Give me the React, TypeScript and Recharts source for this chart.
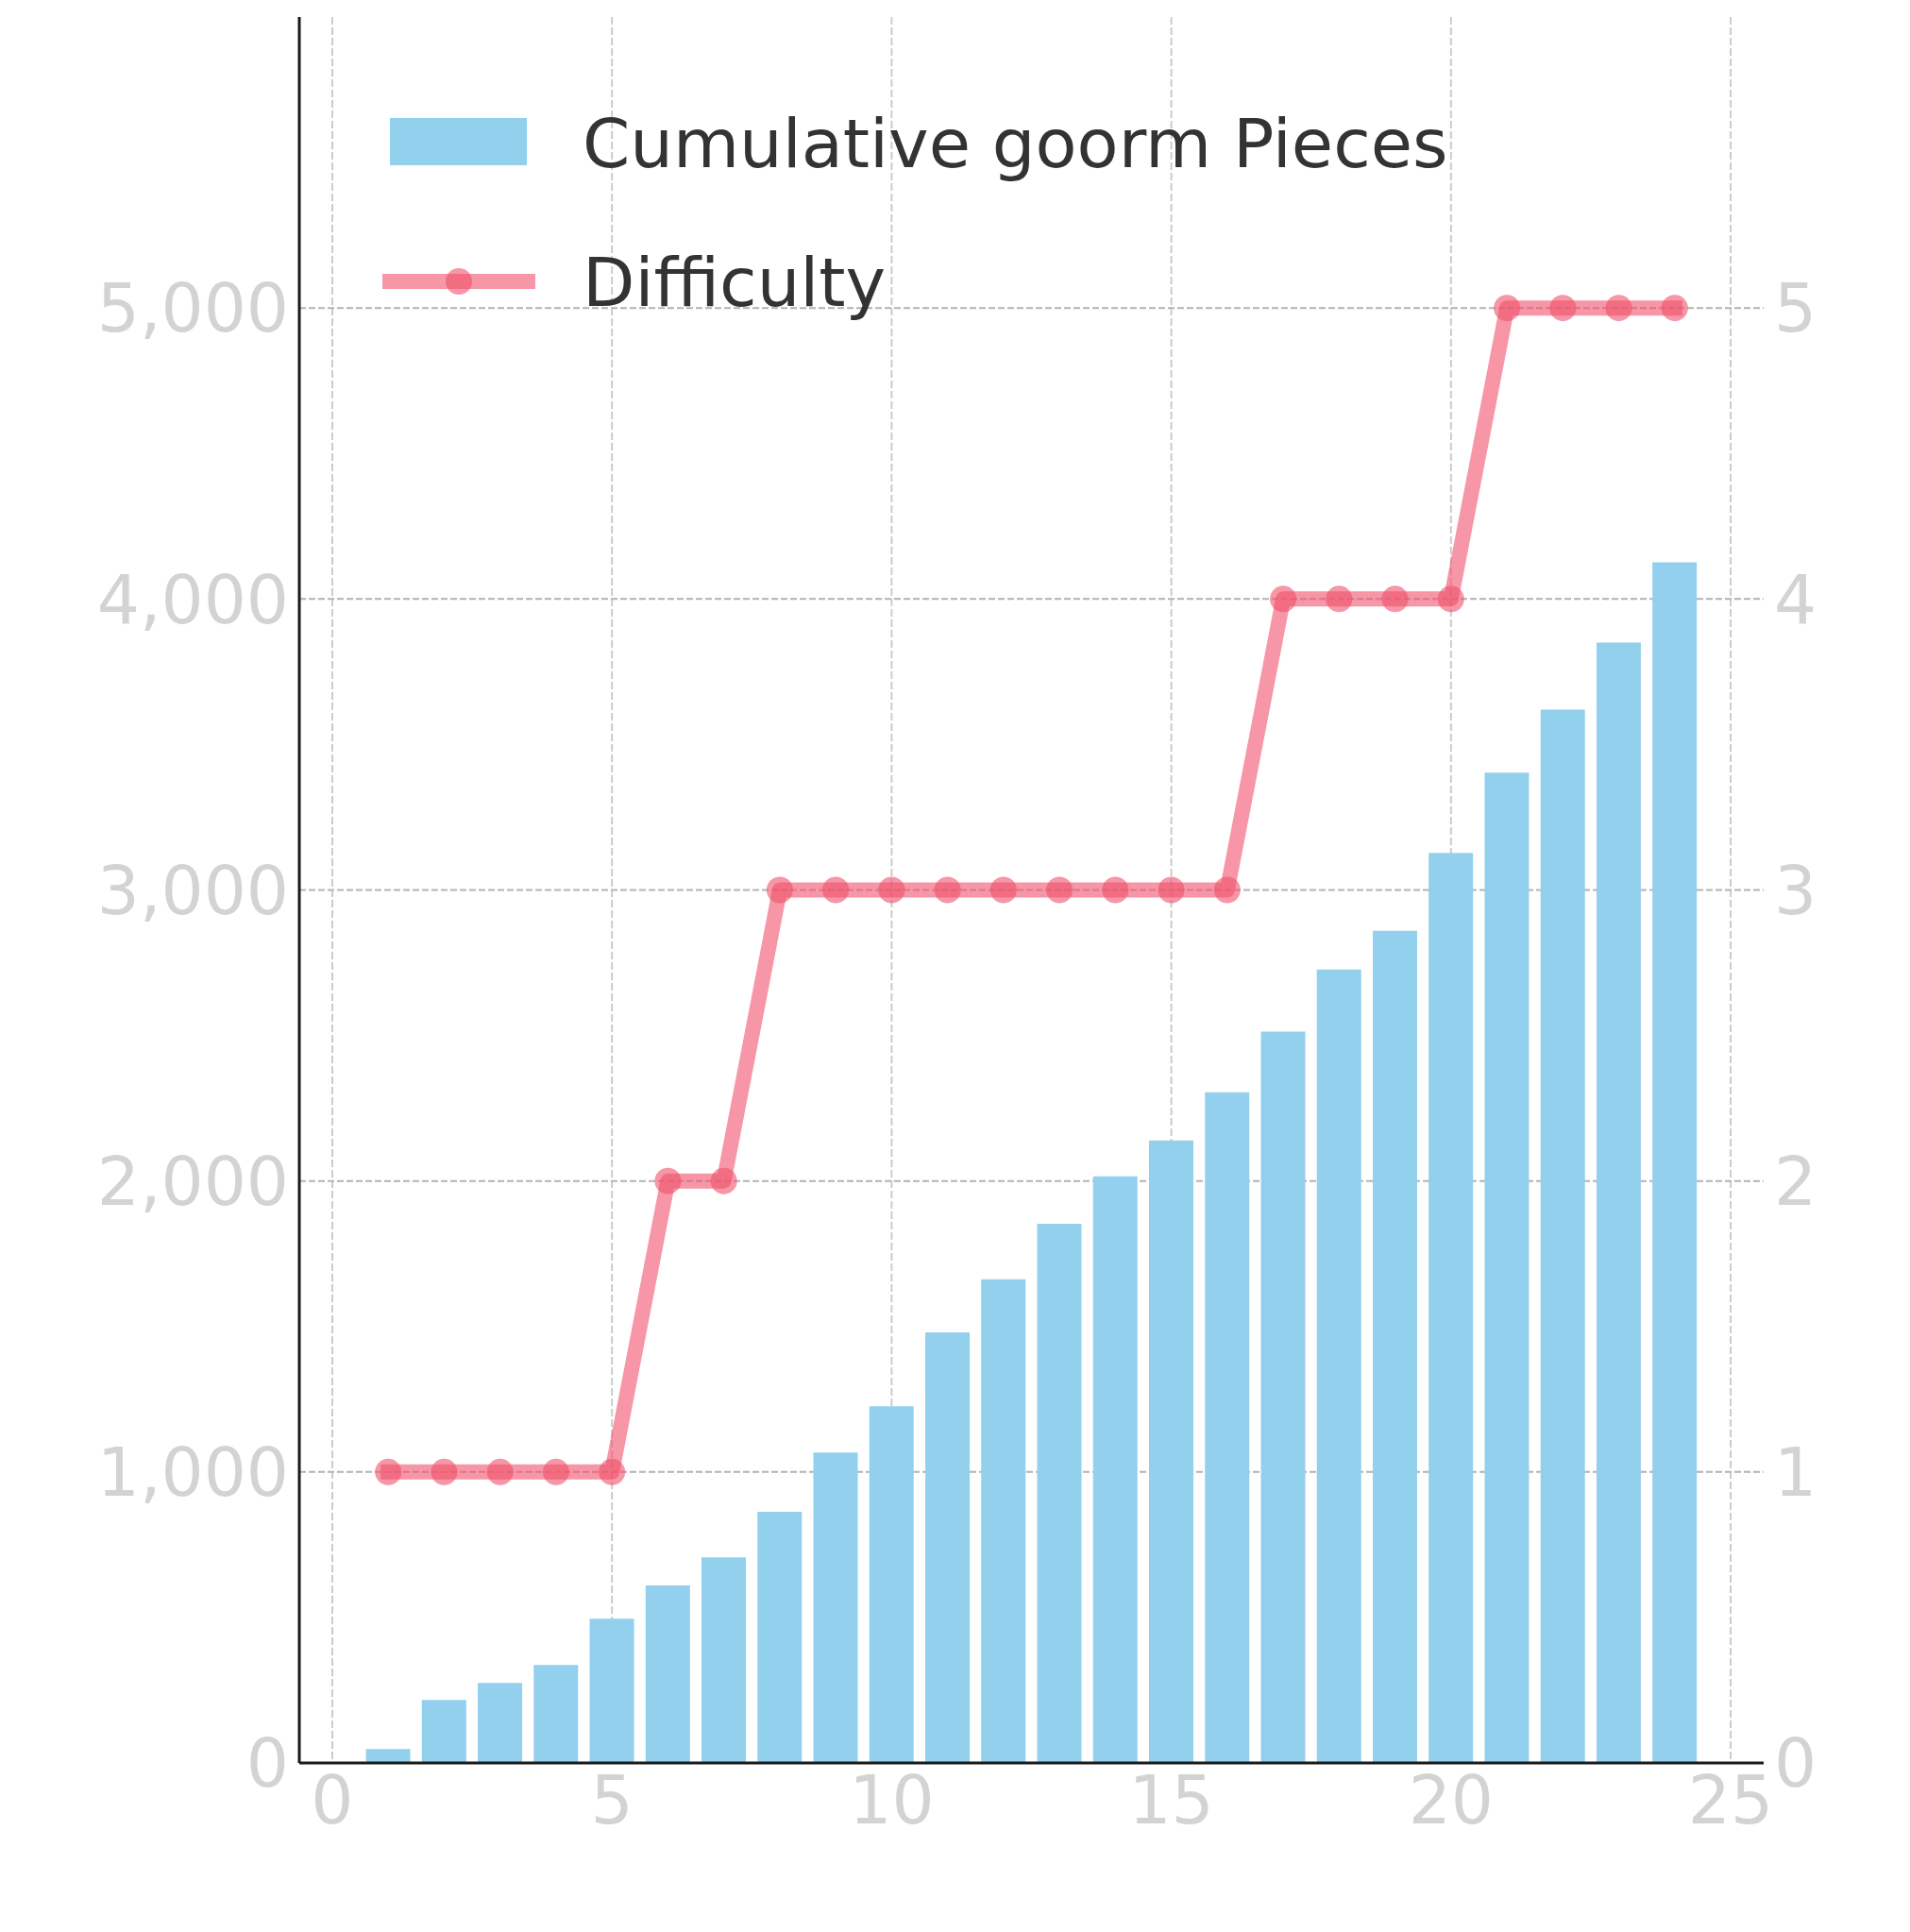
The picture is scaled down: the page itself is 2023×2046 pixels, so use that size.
import React from 'react';
import { ComposedChart, Bar, Line, XAxis, YAxis, CartesianGrid, Legend } from 'recharts';

const periods = [1, 2, 3, 4, 5, 6, 7, 8, 9, 10, 11, 12, 13, 14, 15, 16, 17, 18, 19, 20, 21, 22, 23, 24];
const cumulativePieces = [48, 217, 275, 337, 496, 610, 707, 863, 1067, 1226, 1480, 1662, 1853, 2016, 2139, 2305, 2513, 2727, 2860, 3127, 3403, 3620, 3850, 4126];
const difficulty = [1, 1, 1, 1, 1, 2, 2, 3, 3, 3, 3, 3, 3, 3, 3, 3, 4, 4, 4, 4, 5, 5, 5, 5];
const xTicks = [0, 5, 10, 15, 20, 25];
const leftTicks = [0, 1000, 2000, 3000, 4000, 5000];
const rightTicks = [0, 1, 2, 3, 4, 5];
const seriesNames = ['Cumulative goorm Pieces', 'Difficulty'];

const data = periods.map((p, i) => ({ x: p, pieces: cumulativePieces[i], difficulty: difficulty[i] }));

const BAR = '#92d0ee';
const LINE = '#f0506b';
const FONT = '"DejaVu Sans", sans-serif';
const TICK = { fill: '#d3d3d3', fontSize: 71, fontFamily: FONT };

function LegendContent() {
  return (
    <svg width={1700} height={360} style={{ display: 'block', overflow: 'visible' }}>
      <rect x={413} y={125} width={145} height={50} fill={BAR} />
      <text x={617} y={177} fontSize={72} fontFamily={FONT} fill="#333333">{seriesNames[0]}</text>
      <line x1={413} y1={298} x2={559} y2={298} stroke={LINE} strokeOpacity={0.6} strokeWidth={16} strokeLinecap="square" />
      <circle cx={486} cy={298} r={14} fill={LINE} fillOpacity={0.6} />
      <text x={617} y={324} fontSize={72} fontFamily={FONT} fill="#333333">{seriesNames[1]}</text>
    </svg>
  );
}

export default function App() {
  return (
    <div style={{ position: 'absolute', left: 0, top: 0, background: '#ffffff' }}>
      <ComposedChart width={2023} height={2046} data={data} margin={{ top: 18, right: 0, bottom: 0, left: 0 }}>
        <XAxis
          dataKey="x"
          type="number"
          domain={[-0.59, 25.59]}
          allowDataOverflow
          ticks={xTicks}
          interval={0}
          height={179}
          tickLine={false}
          tickSize={0}
          tickMargin={14}
          axisLine={{ stroke: '#1a1a1a', strokeWidth: 3 }}
          tick={TICK}
        />
        <YAxis
          yAxisId="left"
          domain={[0, 6000]}
          ticks={leftTicks}
          interval={0}
          width={317}
          tickLine={false}
          tickSize={0}
          tickMargin={11}
          axisLine={{ stroke: '#1a1a1a', strokeWidth: 3 }}
          tick={TICK}
          tickFormatter={(v: number) => v.toLocaleString('en-US')}
        />
        <YAxis
          yAxisId="right"
          orientation="right"
          domain={[0, 6]}
          ticks={rightTicks}
          interval={0}
          width={155}
          tickLine={false}
          tickSize={0}
          tickMargin={11}
          axisLine={false}
          tick={TICK}
        />
        <Bar
          yAxisId="left"
          dataKey="pieces"
          name={seriesNames[0]}
          fill={BAR}
          barSize={47}
          isAnimationActive={false}
        />
        <CartesianGrid
          yAxisId="left"
          horizontal={false}
          vertical
          syncWithTicks
          stroke="#cccccc"
          strokeWidth={2}
          strokeDasharray="8 3"
        />
        <CartesianGrid
          yAxisId="left"
          horizontal
          vertical={false}
          syncWithTicks
          stroke="#b3b3b3"
          strokeWidth={2}
          strokeDasharray="7 3"
        />
        <Line
          yAxisId="right"
          type="linear"
          dataKey="difficulty"
          name={seriesNames[1]}
          stroke={LINE}
          strokeOpacity={0.6}
          strokeWidth={16}
          strokeLinecap="square"
          strokeLinejoin="round"
          dot={{ r: 14, fill: LINE, fillOpacity: 0.6, stroke: 'none', strokeWidth: 0 }}
          activeDot={false}
          isAnimationActive={false}
        />
        <Legend
          layout="vertical"
          align="center"
          verticalAlign="middle"
          content={() => <LegendContent />}
          wrapperStyle={{ position: 'absolute', left: 0, top: 0, width: 1700, height: 360 }}
        />
      </ComposedChart>
    </div>
  );
}
